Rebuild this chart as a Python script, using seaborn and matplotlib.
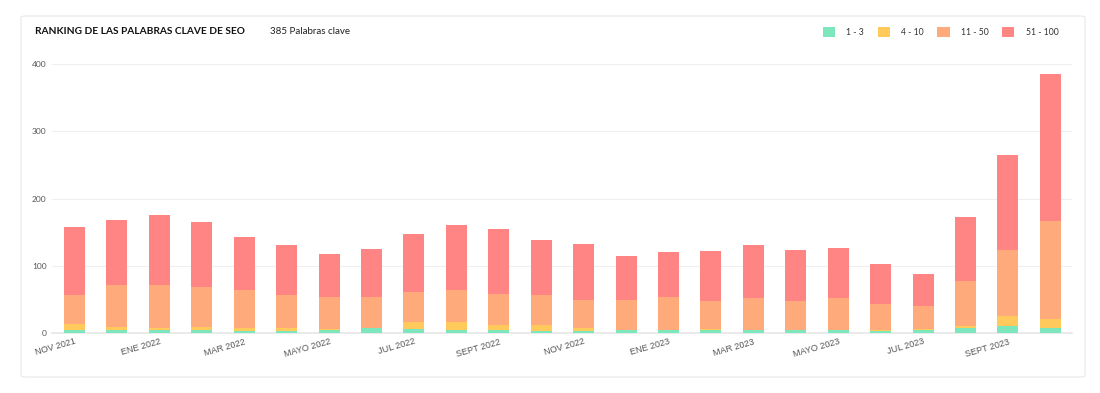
import numpy as np
import pandas as pd
import matplotlib
matplotlib.use("Agg")
import matplotlib.pyplot as plt
from matplotlib.patches import FancyBboxPatch, Patch
import seaborn as sns

# months (Nov 2021 -> Oct 2023)
months = ["NOV 2021", "DIC 2021", "ENE 2022", "FEB 2022", "MAR 2022", "ABR 2022",
          "MAYO 2022", "JUN 2022", "JUL 2022", "AGO 2022", "SEPT 2022", "OCT 2022",
          "NOV 2022", "DIC 2022", "ENE 2023", "FEB 2023", "MAR 2023", "ABR 2023",
          "MAYO 2023", "JUN 2023", "JUL 2023", "AGO 2023", "SEPT 2023", "OCT 2023"]

# keywords per ranking band
pos_1_3 = [5, 4, 4, 5, 3, 3, 5, 7, 6, 5, 4, 3, 3, 4, 4, 5, 4, 4, 4, 3, 5, 7, 11, 8]
pos_4_10 = [8, 5, 3, 4, 5, 4, 1, 1, 10, 12, 8, 9, 5, 1, 1, 1, 1, 1, 1, 1, 1, 4, 14, 13]
pos_11_50 = [43, 62, 65, 59, 56, 49, 48, 46, 45, 47, 46, 44, 41, 44, 49, 42, 47, 43, 47, 39, 34, 67, 99, 145]
pos_51_100 = [101, 97, 104, 97, 79, 75, 64, 71, 86, 97, 97, 82, 84, 65, 67, 74, 79, 76, 75, 60, 47, 95, 140, 219]

tick_labels = ["NOV 2021", "ENE 2022", "MAR 2022", "MAYO 2022", "JUL 2022", "SEPT 2022",
               "NOV 2022", "ENE 2023", "MAR 2023", "MAYO 2023", "JUL 2023", "SEPT 2023"]

bands = ["1 - 3", "4 - 10", "11 - 50", "51 - 100"]
colors = ["#7ee6bc", "#ffc95c", "#ffaa7a", "#ff8585"]

df = pd.DataFrame({"month": months, "1 - 3": pos_1_3, "4 - 10": pos_4_10,
                   "11 - 50": pos_11_50, "51 - 100": pos_51_100})
cum = df[bands].cumsum(axis=1)

sns.set_style("white")
plt.rcParams["font.family"] = ["Lato", "DejaVu Sans"]

fig = plt.figure(figsize=(11, 3.93), dpi=100)
card = FancyBboxPatch((21 / 1100, 16 / 393), 1064 / 1100, 361 / 393,
                      boxstyle="round,pad=0,rounding_size=0.004",
                      transform=fig.transFigure, facecolor="none",
                      edgecolor="#e8e8e8", linewidth=0.8, zorder=-1)
fig.patches.append(card)

ax = fig.add_axes([52 / 1100, 60 / 393, 1020 / 1100, 269 / 393])
ax.set_facecolor("none")

# stacked bars: draw cumulative totals from the top band down
for band, col in zip(bands[::-1], colors[::-1]):
    sns.barplot(x=df["month"], y=cum[band], color=col, saturation=1,
                width=0.495, errorbar=None, ax=ax, order=months, zorder=3,
                linewidth=0, edgecolor="none")

ax.set_ylim(0, 400)
ax.set_xlim(-0.53, 23.51)
ax.set_yticks([0, 100, 200, 300, 400])
ax.set_yticklabels(["0", "100", "200", "300", "400"], fontsize=6, color="#555555")
ax.yaxis.grid(True, color="#efefef", linewidth=0.8, zorder=0)
ax.set_axisbelow(True)
ax.set_xticks(range(0, 24, 2))
ax.set_xticklabels(tick_labels, rotation=16, ha="right", rotation_mode="anchor",
                   fontsize=6.5, color="#555555", family=["Liberation Sans", "DejaVu Sans"])
ax.tick_params(axis="x", length=0, pad=3)
ax.tick_params(axis="y", length=0, pad=4)
ax.set_xlabel("")
ax.set_ylabel("")
for s in ["top", "right", "left"]:
    ax.spines[s].set_visible(False)
ax.spines["bottom"].set_color("#e6e6e6")
ax.spines["bottom"].set_linewidth(1.2)

fig.text(35 / 1100, 1 - 31 / 393, "RANKING DE LAS PALABRAS CLAVE DE SEO",
         fontsize=7.3, fontweight="bold", color="#111111", va="center")
fig.text(270 / 1100, 1 - 31 / 393, "385 Palabras clave", fontsize=7,
         color="#222222", va="center")

handles = [Patch(facecolor=c, edgecolor="none") for c in colors]
fig.legend(handles, bands, loc="center right", bbox_to_anchor=(1066 / 1100, 1 - 32 / 393),
           ncol=4, frameon=False, fontsize=6.2, handlelength=1.4, handleheight=1.4,
           handletextpad=1.3, columnspacing=1.6, labelcolor="#333333")

fig.savefig("out.png", dpi=100, facecolor="white")
